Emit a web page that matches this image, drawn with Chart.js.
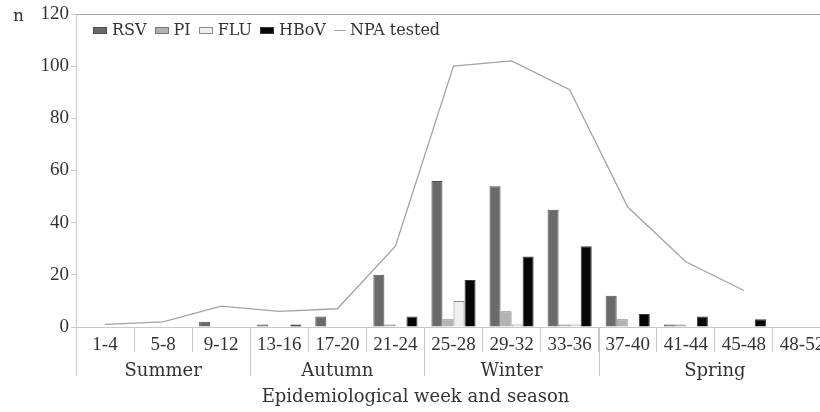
<!DOCTYPE html>
<html>
<head>
<meta charset="utf-8">
<script src="https://cdn.jsdelivr.net/npm/chart.js@4.4.1/dist/chart.umd.min.js"></script>
<style>
  html, body { margin: 0; padding: 0; overflow: hidden; background: #fff; }
  #wrap { position: relative; width: 845px; height: 412px; }
  #legend {
    position: absolute; left: 93px; top: 20px; height: 20px;
    display: flex; align-items: center;
    font: 16px "DejaVu Serif", serif; color: #333; line-height: 20px;
  }
  #legend .item { display: flex; align-items: center; margin-right: 8px; }
  #legend .swatch { width: 12px; height: 5px; margin-right: 5px; }
  #legend .line { width: 12px; height: 0; margin-right: 4px; }
</style>
</head>
<body>
<div id="wrap">
  <canvas id="chart"></canvas>
  <div id="legend"></div>
</div>
<script>
// Epidemiological weeks (4-week bins) and seasons
const weeks = ["1-4", "5-8", "9-12", "13-16", "17-20", "21-24", "25-28", "29-32", "33-36", "37-40", "41-44", "45-48", "48-52"];
const seasons = ["Summer", "Autumn", "Winter", "Spring"];
const seasonSpans = [3, 3, 3, 4]; // number of week bins per season

// Positive samples per virus
const rsv = [0, 0, 2, 1, 4, 20, 56, 54, 45, 12, 1, 0, 0];
const pi = [0, 0, 0, 0, 0, 1, 3, 6, 1, 3, 1, 0, 0];
const flu = [0, 0, 0, 0, 0, 0, 10, 1, 1, 0, 0, 0, 0];
const hbov = [0, 0, 0, 1, 0, 4, 18, 27, 31, 5, 4, 3, 0];
// Nasopharyngeal aspirates tested
const npaTested = [1, 2, 8, 6, 7, 31, 100, 102, 91, 46, 25, 14, null];

const yMin = 0;
const yMax = 120;
const yStep = 20;

const TEXT = "#333";
const AXIS = "#c8c8c8";
const TITLE_H = 18 * 1.2 + 4;

// season separators + labels under the week ticks, and the "n" unit label
const seasonPlugin = {
  id: "seasons",
  afterDraw(chart) {
    const { ctx, chartArea, scales } = chart;
    const xs = scales.x;
    const catW = xs.width / weeks.length;
    ctx.save();
    ctx.strokeStyle = AXIS;
    ctx.lineWidth = 1;
    ctx.fillStyle = TEXT;
    ctx.font = '18px "DejaVu Serif"';
    ctx.textAlign = "center";
    ctx.textBaseline = "middle";
    let start = 0;
    seasons.forEach((name, i) => {
      const x0 = xs.getPixelForValue(start) - catW / 2;
      const x1 = xs.getPixelForValue(start + seasonSpans[i] - 1) + catW / 2;
      ctx.beginPath();
      ctx.moveTo(Math.round(x0) + 0.5, chartArea.bottom);
      ctx.lineTo(Math.round(x0) + 0.5, chartArea.bottom + 49);
      ctx.stroke();
      ctx.fillText(name, (x0 + x1) / 2, chartArea.bottom + 44);
      start += seasonSpans[i];
    });
    ctx.textAlign = "left";
    ctx.textBaseline = "alphabetic";
    ctx.font = '17px "DejaVu Serif"';
    ctx.fillText("n", 13, chartArea.top + 7);
    ctx.restore();
  },
};

const datasets = [
  { type: "line", label: "NPA tested", data: npaTested, borderColor: "#a3a3a3", borderWidth: 1.3, pointRadius: 0, tension: 0, order: 0 },
  { label: "RSV", data: rsv, backgroundColor: "#6a6a6a", borderColor: "#505050", borderWidth: 1, order: 1 },
  { label: "PI", data: pi, backgroundColor: "#b2b2b2", borderColor: "#777", borderWidth: 1, order: 1 },
  { label: "FLU", data: flu, backgroundColor: "#efefef", borderColor: "#8a8a8a", borderWidth: 1, order: 1 },
  { label: "HBoV", data: hbov, backgroundColor: "#060606", borderColor: "#3a3a3a", borderWidth: 1, order: 1 },
];

const chart = new Chart(document.getElementById("chart"), {
  type: "bar",
  data: { labels: weeks, datasets },
  options: {
    responsive: true,
    maintainAspectRatio: false,
    animation: false,
    layout: { padding: { top: 14, right: 14, bottom: 0, left: 0 } },
    datasets: { bar: { categoryPercentage: 0.76, barPercentage: 1 } },
    plugins: {
      legend: { display: false },
      tooltip: { enabled: false },
      title: {
        display: true,
        position: "bottom",
        text: "Epidemiological week and season",
        color: TEXT,
        font: { family: "DejaVu Serif", size: 18, weight: "normal", lineHeight: 1.2 },
        padding: { top: 0, bottom: 4 },
      },
    },
    scales: {
      x: {
        offset: true,
        grid: { offset: true, drawOnChartArea: false, tickLength: 25, color: AXIS },
        border: { display: true, color: AXIS },
        ticks: {
          color: TEXT,
          padding: -18,
          maxRotation: 0,
          autoSkip: false,
          font: { family: "Liberation Serif", size: 19 },
        },
        afterFit(scale) {
          scale.height = 412 - 327 - TITLE_H;
        },
      },
      y: {
        min: yMin,
        max: yMax,
        ticks: {
          stepSize: yStep,
          color: TEXT,
          padding: 2,
          font: { family: "Liberation Serif", size: 19 },
        },
        grid: {
          tickLength: 5,
          tickColor: AXIS,
          color: (c) => (c.tick && c.tick.value === yMax ? "#a8a8a8" : "transparent"),
        },
        border: { display: true, color: AXIS },
        afterFit(scale) {
          scale.width = 76;
        },
      },
    },
  },
  plugins: [seasonPlugin],
});

// legend in the top-left corner of the plot, built from the datasets
const legendOrder = ["RSV", "PI", "FLU", "HBoV", "NPA tested"];
const legendEl = document.getElementById("legend");
legendOrder.forEach((name) => {
  const ds = chart.data.datasets.find((d) => d.label === name);
  const item = document.createElement("span");
  item.className = "item";
  const mark = document.createElement("span");
  if (ds.type === "line") {
    mark.className = "line";
    mark.style.borderTop = "1.3px solid " + ds.borderColor;
  } else {
    mark.className = "swatch";
    mark.style.background = ds.backgroundColor;
    mark.style.border = "1px solid " + ds.borderColor;
  }
  const txt = document.createElement("span");
  txt.textContent = name;
  item.appendChild(mark);
  item.appendChild(txt);
  legendEl.appendChild(item);
});
</script>
</body>
</html>
